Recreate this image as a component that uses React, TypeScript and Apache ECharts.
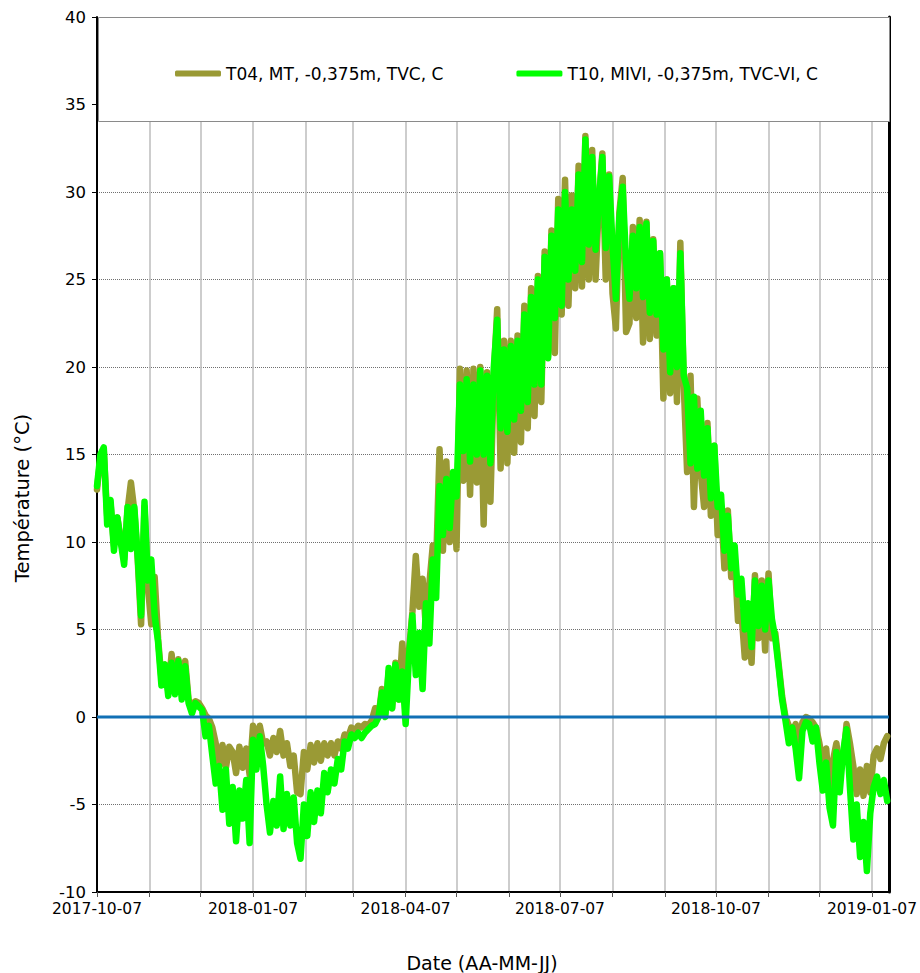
import React, { useEffect, useRef } from "react";
import * as echarts from "echarts";

// ---- data ----
const START_DATE = "2017-10-07"; // first sample
const STEP_DAYS = 2; // one sample every two days
const AXIS_MIN = "2017-10-07";
const AXIS_MAX = "2019-01-17";
const MONTH_TICKS = [
  "2017-10-07", "2017-11-07", "2017-12-07", "2018-01-07", "2018-02-07", "2018-03-07",
  "2018-04-07", "2018-05-07", "2018-06-07", "2018-07-07", "2018-08-07", "2018-09-07",
  "2018-10-07", "2018-11-07", "2018-12-07", "2019-01-07",
];
const LABEL_DATES = ["2017-10-07", "2018-01-07", "2018-04-07", "2018-07-07", "2018-10-07", "2019-01-07"];
const Y_MIN = -10;
const Y_MAX = 40;
const Y_STEP = 5;

const SERIES_NAMES = ["T04, MT, -0,375m, TVC, C", "T10, MIVI, -0,375m, TVC-VI, C"];

const T04 = [
  13.0, 14.8, 15.2, 11.5, 12.2, 9.8, 11.4, 10.2, 9.0, 11.8,
  13.4, 11.8, 9.0, 5.3, 12.0, 7.5, 5.3, 8.0, 4.5, 2.2,
  3.0, 1.5, 3.6, 1.5, 3.3, 1.4, 3.2, 1.0, 0.6, 0.9,
  0.8, 0.5, 0.1, -0.1, -0.6, -1.5, -2.8, -1.6, -2.9, -1.7,
  -2.0, -3.2, -1.7, -2.9, -1.8, -3.3, -0.5, -1.6, -0.5, -1.5,
  -1.4, -2.2, -1.2, -2.0, -0.8, -2.2, -1.5, -2.8, -2.2, -4.3,
  -4.4, -2.0, -3.0, -1.6, -2.6, -1.5, -2.5, -1.5, -2.2, -1.5,
  -2.2, -1.4, -1.8, -1.0, -1.2, -0.6, -0.8, -0.5, -0.6, -0.4,
  -0.5, -0.2, 0.5, 0.0, 1.6, 0.2, 2.6, 0.5, 3.1, 1.0,
  4.2, 2.0, 3.8, 6.0, 9.2, 6.3, 7.9, 5.0, 7.6, 9.8,
  8.8, 15.3, 9.5, 14.6, 10.0, 13.5, 9.6, 19.9, 13.5, 19.8,
  12.7, 19.9, 13.4, 20.0, 11.0, 19.7, 12.3, 19.5, 23.3, 14.2,
  21.5, 14.5, 21.5, 15.1, 21.8, 15.7, 23.5, 16.5, 24.5, 17.2,
  25.2, 18.0, 26.6, 20.6, 27.8, 20.8, 29.6, 23.0, 30.7, 23.5,
  29.8, 24.5, 31.5, 24.6, 33.2, 25.0, 32.4, 25.0, 29.5, 32.2,
  25.0, 31.0, 24.2, 22.2, 28.8, 30.8, 22.0, 22.5, 28.0, 22.8,
  28.4, 21.4, 28.3, 21.6, 27.3, 21.8, 26.5, 18.2, 25.0, 18.5,
  24.5, 18.0, 27.1, 19.0, 14.0, 19.5, 12.0, 18.2, 14.0, 12.0,
  16.8, 11.5, 15.5, 10.4, 12.0, 8.5, 11.8, 8.0, 9.2, 5.5,
  6.0, 3.4, 5.5, 3.1, 8.1, 4.5, 7.8, 3.8, 8.2, 4.5,
  4.8, 3.0, 1.2, 0.0, -0.5, -0.9, -0.4, -1.7, -0.3, 0.0,
  -0.1, -0.3, -0.6, -1.5, -2.6, -1.8, -4.4, -2.5, -1.5, -3.0,
  -2.5, -0.4, -1.5, -2.8, -4.4, -3.0, -4.5, -2.8, -4.3, -2.2,
  -1.8, -2.4, -1.5, -1.1,
];

const T10 = [
  13.2, 15.0, 15.4, 11.0, 12.4, 9.5, 11.4, 10.0, 8.7, 12.0,
  9.6, 12.0, 9.2, 5.8, 12.3, 7.8, 9.0, 5.8, 4.3, 1.8,
  3.0, 1.2, 3.1, 1.3, 3.2, 1.0, 2.9, 0.8, 0.2, 0.8,
  0.6, 0.4, -1.1, -0.5, -2.2, -3.8, -2.8, -5.3, -3.0, -6.1,
  -4.0, -7.1, -4.2, -5.8, -3.6, -7.2, -1.3, -3.0, -1.1, -2.8,
  -5.0, -6.6, -4.8, -6.2, -3.4, -6.4, -4.4, -6.2, -4.6, -7.2,
  -8.1, -5.0, -6.8, -4.3, -6.0, -4.2, -5.5, -3.2, -4.3, -3.0,
  -3.8, -2.4, -3.0, -1.4, -1.8, -1.0, -1.2, -0.9, -1.2, -0.9,
  -0.7, -0.5, -0.4, 0.0, 1.4, 0.0, 2.8, 0.5, 3.0, 1.0,
  2.6, -0.4, 3.5, 5.8, 2.4, 4.8, 1.6, 6.5, 4.2, 9.0,
  6.8, 13.2, 10.4, 13.6, 10.8, 14.0, 12.6, 19.0, 15.2, 19.3,
  14.6, 19.0, 15.0, 19.8, 15.0, 19.5, 14.5, 20.0, 22.7, 16.5,
  21.0, 16.3, 21.2, 17.0, 21.5, 17.5, 23.0, 18.0, 24.0, 19.0,
  25.0, 19.0, 26.3, 20.5, 27.5, 22.8, 29.0, 23.5, 30.0, 25.0,
  29.0, 25.5, 31.0, 26.0, 33.0, 27.0, 32.0, 26.7, 29.5, 32.0,
  26.8, 30.9, 27.0, 23.9, 28.5, 30.3, 26.0, 23.9, 27.5, 24.5,
  28.0, 24.0, 28.2, 23.1, 27.2, 23.0, 26.5, 21.0, 25.0, 19.7,
  24.5, 20.0, 26.5, 19.5, 18.8, 14.5, 18.3, 14.2, 17.5, 13.8,
  16.5, 12.5, 15.5, 12.0, 12.7, 9.5, 11.5, 8.5, 9.8, 7.0,
  7.9, 5.0, 6.5, 4.0, 7.8, 5.2, 7.5, 5.0, 7.8, 5.6,
  4.5, 2.8, 1.0, -0.2, -1.5, -0.6, -1.8, -3.5, -0.8, -0.3,
  -0.4, -1.4, -0.6, -2.6, -4.2, -2.6, -5.2, -6.2, -2.0, -4.3,
  -2.0, -0.7, -4.0, -7.0, -5.0, -8.0, -6.0, -8.8, -5.5, -4.0,
  -3.4, -4.4, -3.6, -4.8,
];

// ---- helpers ----
const DAY_MS = 86400000;
const ts = (s: string) => {
  const [y, m, d] = s.split("-").map(Number);
  return Date.UTC(y, m - 1, d);
};
const pad = (n: number) => (n < 10 ? "0" + n : "" + n);
const fmt = (v: number) => {
  const d = new Date(v);
  return `${d.getUTCFullYear()}-${pad(d.getUTCMonth() + 1)}-${pad(d.getUTCDate())}`;
};

const FONT = "DejaVu Sans";

export default function App() {
  const ref = useRef<HTMLDivElement>(null);

  useEffect(() => {
    if (!ref.current) return;
    const chart = echarts.init(ref.current, undefined, { renderer: "svg" });
    const t0 = ts(START_DATE);
    const toPairs = (arr: number[]) => arr.map((v, i) => [t0 + i * STEP_DAYS * DAY_MS, v]);
    const xMin = ts(AXIS_MIN);
    const xMax = ts(AXIS_MAX);

    chart.setOption({
      animation: false,
      backgroundColor: "#ffffff",
      textStyle: { fontFamily: FONT },
      grid: { left: 97, top: 17, right: 29, bottom: 81, containLabel: false },
      legend: {
        data: SERIES_NAMES,
        left: 170,
        top: 60,
        z: 10,
        icon: "roundRect",
        itemWidth: 46,
        itemHeight: 6,
        itemGap: 73,
        textStyle: { fontFamily: FONT, fontSize: 17, color: "#000" },
      },
      xAxis: {
        type: "value",
        min: xMin,
        max: xMax,
        axisLine: { show: true, onZero: false, lineStyle: { color: "#000", width: 2 } },
        axisTick: {
          show: true,
          length: 5,
          customValues: MONTH_TICKS.map(ts),
          lineStyle: { color: "#555", width: 1 },
        },
        axisLabel: {
          customValues: LABEL_DATES.map(ts),
          formatter: (v: number) => fmt(v),
          fontFamily: FONT,
          fontSize: 15.5,
          color: "#000",
          margin: 9,
          showMinLabel: true,
          showMaxLabel: true,
        },
        splitLine: { show: true, lineStyle: { color: "#bdbdbd", width: 1.5 } },
      },
      yAxis: [
        {
          type: "value",
          min: Y_MIN,
          max: Y_MAX,
          interval: Y_STEP,
          axisLine: { show: true, onZero: false, lineStyle: { color: "#000", width: 2 } },
          axisTick: { show: true, length: 5, lineStyle: { color: "#000" } },
          axisLabel: { fontFamily: FONT, fontSize: 16.5, color: "#000", margin: 11 },
          splitLine: { show: true, lineStyle: { color: "#707070", type: "dotted", width: 1 } },
        },
        {
          type: "value",
          position: "right",
          min: Y_MIN,
          max: Y_MAX,
          interval: Y_STEP,
          axisLine: { show: true, onZero: false, lineStyle: { color: "#000", width: 3 } },
          axisTick: { show: false },
          axisLabel: { show: false },
          splitLine: { show: false },
        },
      ],
      graphic: {
        elements: [
          {
            type: "rect",
            z: 3,
            shape: { x: 98.5, y: 17.5, width: 791, height: 104 },
            style: { fill: "#ffffff", stroke: "#8a8a8a", lineWidth: 1 },
          },
          {
            type: "text",
            x: 22,
            y: 498,
            rotation: Math.PI / 2,
            style: {
              text: "Température (°C)",
              fontFamily: FONT,
              fontSize: 19.5,
              fill: "#000",
              textAlign: "center",
              textVerticalAlign: "middle",
            },
          },
          {
            type: "text",
            x: 482,
            y: 963,
            style: {
              text: "Date (AA-MM-JJ)",
              fontFamily: FONT,
              fontSize: 19,
              fill: "#000",
              textAlign: "center",
              textVerticalAlign: "middle",
            },
          },
        ],
      },
      series: [
        {
          name: SERIES_NAMES[0],
          type: "line",
          data: toPairs(T04),
          showSymbol: false,
          symbol: "none",
          color: "#9a9a35",
          lineStyle: { color: "#9a9a35", width: 6.5, join: "round", cap: "round" },
          z: 2,
        },
        {
          name: SERIES_NAMES[1],
          type: "line",
          data: toPairs(T10),
          showSymbol: false,
          symbol: "none",
          color: "#00ff00",
          lineStyle: { color: "#00ff00", width: 6.5, join: "round", cap: "round" },
          z: 2,
        },
        {
          name: "zero",
          type: "line",
          data: [
            [xMin, 0],
            [xMax, 0],
          ],
          showSymbol: false,
          symbol: "none",
          lineStyle: { color: "#1170b5", width: 3 },
          silent: true,
          z: 4,
        },
      ],
    });

    return () => chart.dispose();
  }, []);

  return (
    <div
      ref={ref}
      style={{ position: "absolute", left: 0, top: 0, width: 920, height: 973, background: "#fff" }}
    />
  );
}
